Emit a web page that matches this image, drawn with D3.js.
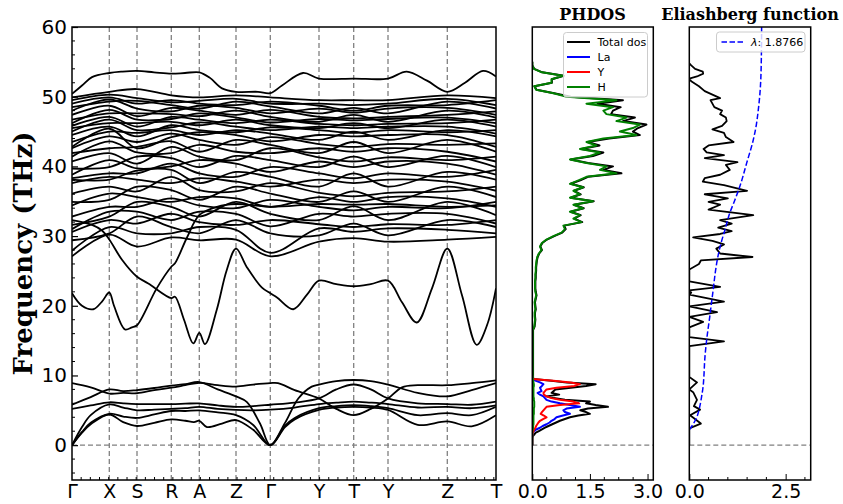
<!DOCTYPE html>
<html><head><meta charset="utf-8">
<script src="https://cdn.jsdelivr.net/npm/d3@7"></script>
<style>body{margin:0;background:#fff}svg{display:block}</style>
</head><body>
<svg id="chart" width="843" height="504"></svg>
<script>
// ---------- path through the Brillouin zone ----------
const kLabels = ["Γ","X","S","R","A","Z","Γ","Y","T","Y","Z","T"];
const kPoints = [0, 0.373, 0.65, 0.993, 1.273, 1.64, 1.983, 2.47, 2.817, 3.16, 3.753, 4.24];
const freqTicks = [0, 10, 20, 30, 40, 50, 60];

// ---------- metal-dominated branches, [k, THz] ----------
const bandA = [[0,8.9],[0.187,8.3],[0.373,7.4],[0.512,7.5],[0.65,7.45],[0.822,7.9],[0.993,8.25],[1.133,8.6],[1.273,8.95],[1.457,8.6],[1.64,8.4],[1.812,8.7],[1.983,8.9],[2.06,8.9],[2.227,7.9],[2.47,6.7],[2.643,5.2],[2.817,4.3],[2.988,5.2],[3.16,6.7],[3.3,8.3],[3.457,8.6],[3.753,8.6],[3.997,8.9],[4.24,9.3]];
const bandB = [[0,5.8],[0.187,6.9],[0.373,8.0],[0.512,7.75],[0.65,7.9],[0.822,8.2],[0.993,8.55],[1.133,8.75],[1.273,9.05],[1.457,8.0],[1.64,7.0],[1.747,6.2],[1.88,3.1],[1.983,0],[2.13,3.2],[2.263,6.7],[2.397,8.4],[2.47,8.7],[2.643,9.2],[2.817,9.35],[2.988,9.2],[3.16,8.7],[3.457,7.5],[3.753,7.0],[3.997,7.9],[4.24,8.9]];
const bandC = [[0,5.2],[0.187,5.7],[0.373,6.15],[0.512,6.0],[0.65,5.9],[0.822,5.9],[0.993,5.9],[1.133,5.95],[1.273,6.0],[1.457,5.7],[1.64,5.5],[1.812,5.6],[1.983,5.8],[2.227,6.1],[2.47,6.7],[2.643,8.0],[2.817,8.7],[2.988,8.0],[3.16,6.7],[3.457,6.0],[3.753,5.9],[3.997,5.8],[4.24,6.25]];
const bandD = [[0,0],[0.1,2.6],[0.187,4.3],[0.373,5.85],[0.512,5.4],[0.65,5.0],[0.822,5.1],[0.993,5.2],[1.133,5.3],[1.273,5.5],[1.457,5.2],[1.64,5.05],[1.812,5.0],[1.983,5.1],[2.227,5.4],[2.47,5.9],[2.643,6.1],[2.817,6.25],[2.988,6.1],[3.16,5.9],[3.457,5.4],[3.753,5.5],[3.997,5.3],[4.24,5.7]];
const bandE = [[0,0],[0.1,1.9],[0.187,3.2],[0.373,4.5],[0.512,4.1],[0.65,3.9],[0.822,4.4],[0.993,4.9],[1.133,4.9],[1.273,5.0],[1.457,4.7],[1.64,4.3],[1.812,2.9],[1.983,0],[2.13,2.8],[2.227,3.9],[2.47,5.3],[2.643,5.6],[2.817,5.75],[2.988,5.6],[3.16,5.3],[3.457,4.3],[3.753,4.6],[3.997,4.3],[4.24,5.5]];
const bandF = [[0,0],[0.1,1.8],[0.187,3.0],[0.373,4.4],[0.512,3.3],[0.65,2.75],[0.822,3.2],[0.993,3.7],[1.133,3.5],[1.22,3.3],[1.273,3.5],[1.35,2.6],[1.5,3.1],[1.64,3.6],[1.812,2.2],[1.983,0],[2.13,2.6],[2.227,3.7],[2.47,5.05],[2.643,5.4],[2.817,5.5],[2.988,5.4],[3.16,5.05],[3.457,2.9],[3.753,3.4],[3.997,2.7],[4.24,4.3]];

// ---------- hydrogen branches that stand out ----------
const bandAlpha = [[0,21.8],[0.1,20.0],[0.213,19.5],[0.3,20.6],[0.373,21.9],[0.42,20.0],[0.53,16.6],[0.6,16.9],[0.65,17.2],[0.847,22.5],[0.993,25.6],[1.03,26.1],[1.15,29.8],[1.273,33.0],[1.45,34.2],[1.64,34.6],[1.983,34.2],[2.47,34.6],[2.817,34.5],[3.16,34.6],[3.753,34.2],[4.24,34.4]];
const bandBeta = [[0,32.3],[0.2,31.6],[0.3,30.8],[0.373,29.5],[0.5,26.6],[0.647,24.2],[0.763,23.2],[0.993,21.1],[1.03,21.3],[1.12,18.0],[1.213,14.6],[1.273,16.1],[1.33,14.5],[1.447,19.4],[1.547,25.1],[1.64,28.2],[1.75,25.5],[1.9,22.6],[1.983,21.8],[2.05,21.2],[2.213,19.5],[2.35,21.6],[2.47,23.6],[2.643,23.1],[2.817,22.8],[2.988,23.1],[3.16,23.6],[3.3,20.5],[3.447,17.6],[3.6,22.5],[3.753,28.2],[3.9,21.5],[4.047,14.4],[4.15,17.2],[4.24,22.5]];
const bandTop = [[0,50.4],[0.1,51.6],[0.2,52.8],[0.373,53.4],[0.5,53.6],[0.65,53.7],[0.82,53.5],[0.993,53.3],[1.13,53.4],[1.273,53.5],[1.38,52.7],[1.5,51.2],[1.64,50.7],[1.86,50.7],[1.983,50.5],[2.1,51.6],[2.31,53.4],[2.47,52.6],[2.817,52.6],[3.16,52.6],[3.347,53.6],[3.55,52.3],[3.753,50.7],[3.93,52.0],[4.11,53.7],[4.24,52.9]];

// ---------- remaining hydrogen branches: frequency of branch i (THz) at each labelled point ----------
const hGamma  = [27.1,27.9,29.4,30.6,31.0,31.6,32.8,34.4,34.9,36.1,37.6,38.1,38.3,38.8,39.7,40.7,41.4,41.9,42.6,42.8,43.5,44.5,45.0,45.5,45.8,46.2,46.7,47.4,48.0,48.5,49.0,49.5,49.9];
const hX      = [30.2,31.3,30.4,32.3,33.5,32.8,34.2,36.1,35.2,37.1,38.5,38.1,39.0,40.9,39.9,41.9,43.6,42.6,44.3,45.4,45.0,45.7,46.7,46.2,47.1,48.1,47.6,48.7,49.6,49.3,49.9,50.3,50.7];
const hS      = [28.5,30.4,32.8,31.8,33.5,34.9,34.2,35.6,37.1,36.4,38.1,39.4,39.0,39.7,41.4,40.4,42.0,42.8,43.5,42.6,44.8,44.3,45.2,46.2,45.7,46.7,47.6,47.2,48.3,49.4,49.0,49.8,51.1];
const hR      = [29.8,30.4,31.3,33.2,32.3,34.2,35.4,34.9,36.6,38.5,37.6,39.5,40.4,40.0,41.2,42.8,41.9,43.6,44.7,44.2,45.2,45.9,45.6,46.4,47.1,46.8,47.5,48.4,47.9,48.8,49.5,49.2,50.2];
const hA      = [29.4,31.3,30.4,32.0,33.5,32.8,34.4,35.6,35.2,36.6,38.3,37.6,39.0,40.9,39.9,41.4,43.1,42.1,43.8,44.9,44.5,45.2,46.3,45.9,46.7,47.6,47.2,48.0,48.7,48.3,49.0,49.4,49.9];
const hZ      = [29.5,30.9,32.3,31.6,33.2,34.9,34.0,35.4,37.1,36.4,37.8,39.2,38.5,40.4,41.5,40.9,42.1,43.8,43.1,44.5,45.2,44.9,45.7,46.7,46.2,47.0,48.0,47.4,48.4,49.3,48.8,49.7,50.2];
const hGamma2 = [27.1,27.6,30.4,32.3,31.4,33.2,35.2,34.2,36.1,37.6,37.1,38.5,39.9,39.2,40.9,42.6,41.9,43.1,44.2,43.6,44.7,45.6,45.2,45.9,46.7,46.3,47.1,48.1,47.6,48.6,49.3,49.0,49.9];
const hY      = [29.2,31.1,30.1,31.7,33.2,32.3,34.2,35.6,34.9,36.2,38.1,37.1,39.0,40.7,39.9,41.3,42.6,41.9,43.2,44.5,43.8,45.2,45.7,45.5,46.1,46.8,46.4,47.1,48.3,47.6,48.7,49.0,49.5];
const hT      = [29.7,30.6,31.8,31.3,32.8,34.3,33.7,34.9,36.4,35.7,37.6,39.0,38.3,39.9,41.4,40.7,42.1,43.5,42.8,44.3,45.0,44.8,45.5,46.2,45.9,46.6,47.4,46.9,47.7,48.4,48.0,48.8,49.5];
const hT2     = [29.9,30.4,31.3,32.3,31.8,33.0,34.9,34.2,35.6,37.1,36.5,38.1,39.5,38.8,39.9,41.4,40.7,42.1,43.3,42.8,44.3,45.2,44.7,45.7,46.7,46.2,47.0,47.9,47.4,48.3,49.5,48.8,49.8];

// ---------- phonon DOS (states/THz) ----------
const dosFreqLow = [0,0.25,0.5,0.75,1,1.25,1.5,1.75,2,2.25,2.5,2.75,3,3.25,3.5,3.75,4,4.25,4.5,4.75,5,5.25,5.5,5.75,6,6.25,6.5,6.75,7,7.25,7.5,7.75,8,8.25,8.5,8.75,9,9.25,9.5,9.75,10];
const dosTotalLow = [0,0,0,0,0,0.01,0.05,0.08,0.17,0.25,0.33,0.42,0.52,0.62,0.72,0.85,0.98,1.2,1.5,1.4,1.25,1.45,1.97,1.65,1.4,1.5,0.85,0.55,0.37,0.7,0.5,0.55,0.6,1.0,1.4,1.65,0.9,0.5,0.03,0.02,0.02];
const dosLa = [0,0,0,0,0,0,0,0.01,0.04,0.1,0.2,0.27,0.37,0.45,0.5,0.58,0.63,0.8,0.98,0.85,0.81,0.89,1.24,0.98,0.72,0.5,0.37,0.33,0.29,0.2,0.14,0.24,0.22,0.2,0.25,0.29,0.2,0.08,0,0,0];
const dosY  = [0,0,0,0,0,0,0,0.01,0.03,0.05,0.08,0.1,0.13,0.16,0.2,0.28,0.37,0.3,0.22,0.25,0.29,0.33,0.37,0.72,1.22,1.07,0.72,0.5,0.37,0.3,0.29,0.33,0.37,0.63,1.1,1.24,1.0,0.55,0,0,0];
const dosHLow = [0,0,0,0,0,0,0,0,0,0.01,0.02,0.02,0.03,0.03,0.03,0.03,0.03,0.03,0.04,0.04,0.04,0.04,0.05,0.05,0.05,0.05,0.04,0.04,0.03,0.03,0.03,0.03,0.03,0.03,0.04,0.04,0.03,0.02,0.01,0.01,0.01];

const dosFreqHigh = [10.5,11,11.5,12,12.5,13,13.5,14,14.5,15,15.5,16,16.5,17,17.5,18,18.5,19,19.5,20,20.5,21,21.5,22,22.5,23,23.5,24,24.5,25,25.5,26,26.5,27,27.5,28,28.5,29,29.5,30,30.5,31,31.5,32,32.5,33,33.5,34,34.5,35,35.5,36,36.5,37,37.5,38,38.5,39,39.5,40,40.5,41,41.5,42,42.5,43,43.5,44,44.5,45,45.5,46,46.5,47,47.5,48,48.5,49,49.5,50,50.5,51,51.5,52,52.5,53,53.5,54,54.5,55];
const dosHHigh = [0.01,0.01,0.01,0.01,0.01,0.01,0.01,0.01,0.01,0.01,0.01,0.01,0.01,0.05,0.06,0.07,0.06,0.06,0.08,0.07,0.06,0.08,0.1,0.08,0.07,0.07,0.07,0.08,0.08,0.09,0.09,0.1,0.11,0.13,0.17,0.24,0.2,0.25,0.37,0.55,0.76,0.85,0.81,1.28,1.07,1.24,0.98,1.32,1.07,1.58,0.98,1.24,1.07,1.32,0.98,1.2,1.41,2.19,1.76,1.93,1.41,0.98,1.5,1.76,1.24,1.67,1.41,1.85,2.71,2.28,2.62,2.8,2.19,2.45,1.93,1.85,2.1,1.41,2.19,0.9,0.55,0.1,0.05,0.5,0.5,0.8,0.25,0.04,0,0];
const dosTotalHigh = [0.02,0.02,0.02,0.02,0.02,0.02,0.02,0.02,0.02,0.02,0.02,0.02,0.02,0.06,0.07,0.08,0.07,0.07,0.09,0.08,0.07,0.09,0.11,0.09,0.08,0.08,0.08,0.09,0.09,0.1,0.1,0.11,0.12,0.14,0.18,0.25,0.21,0.26,0.38,0.57,0.78,0.87,0.83,1.3,1.09,1.26,1.0,1.34,1.09,1.6,1.0,1.26,1.09,1.34,1.0,1.25,1.45,2.32,1.85,2.1,1.45,1.0,1.58,1.85,1.27,1.75,1.44,2.0,2.8,2.62,2.75,2.97,2.36,2.67,2.05,2.1,2.3,1.7,2.36,1.0,0.57,0.11,0.06,0.51,0.51,0.82,0.26,0.05,0,0];

// ---------- Eliashberg spectral function and cumulative coupling ----------
const a2fFreq = [0,2.4,3.1,4.3,5.1,5.6,6.5,7.6,8.0,9.0,9.8,14.2,14.9,15.5,16.9,17.7,18.4,19.1,19.9,20.6,21.6,21.9,22.2,22.7,23.5,25.2,26.0,26.5,27.0,27.5,28.2,28.8,29.3,29.8,30.3,30.7,31.2,31.8,32.3,33.0,33.8,34.5,34.9,35.4,36.0,36.5,37.3,37.8,38.3,38.8,39.5,40.2,40.6,41.2,41.6,42.0,42.5,43.0,43.5,44.2,44.8,45.3,45.8,46.5,47.0,47.5,48.0,48.5,49.0,49.5,49.8,50.8,51.5,52.2,52.6,52.9,53.3,53.6,54.0,54.5,54.8];
const a2fVal  = [0,0,0.3,0.02,0.28,0.12,0.2,0.1,0,0.2,0,0,0.9,0,0,0.36,0,0.72,0,0.9,0,0.05,0,0.8,0,0,0.25,0.3,1.64,0.8,0.7,0.9,0.6,0.1,0.8,1.1,0.75,1.1,0.8,1.66,0.5,0.8,0.5,1.0,0.4,1.5,0.9,0.35,0.4,0.8,1.05,0.95,1.25,0.4,0.9,0.45,0.37,0.5,1.15,0.95,0.9,0.6,0.85,0.97,0.95,0.8,0.85,0.65,0.6,0.55,0.8,0.4,0.25,0.05,0,0.2,0.36,0.35,0.15,0.05,0];
const lambdaFreq = [2.2,3.2,4.1,5.5,7,8.5,10,12.2,15.1,18.4,20.6,22.3,25,27,28.5,31,33.3,35,37.1,40.5,43.8,46,48.1,51,54.3,60];
const lambdaVal  = [0,0.12,0.2,0.27,0.32,0.36,0.38,0.4,0.45,0.53,0.58,0.62,0.68,0.74,0.8,0.93,1.05,1.17,1.31,1.49,1.66,1.74,1.79,1.84,1.865,1.8766];
const lambdaTotal = 1.8766;

// ---------- layout ----------
const svg = d3.select("#chart");
const yTop = 27, yBot = 480;
const y = d3.scaleLinear().domain([-5, 60]).range([yBot, yTop]);
const xK = d3.scaleLinear().domain([0, 4.24]).range([72, 496]);
const xPh = d3.scaleLinear().domain([0, 3.15]).range([532.3, 653.3]);
const xEl = d3.scaleLinear().domain([0, 3.15]).range([689.3, 810.7]);

const sans = "DejaVu Sans, sans-serif";
const serif = "DejaVu Serif, serif";
const grey = "#808080";
const tickFont = 19;

function clip(id, x0, x1) {
  svg.append("clipPath").attr("id", id).append("rect")
    .attr("x", x0).attr("y", yTop).attr("width", x1 - x0).attr("height", yBot - yTop);
}
clip("cBand", 72, 496); clip("cPh", 532.3, 653.3); clip("cEl", 689.3, 810.7);

// ---------- band structure ----------
const gBand = svg.append("g");
gBand.selectAll("line.hs").data(kPoints.slice(1, -1)).join("line")
  .attr("x1", d => xK(d)).attr("x2", d => xK(d)).attr("y1", yTop).attr("y2", yBot)
  .attr("stroke", grey).attr("stroke-width", 1.3).attr("stroke-dasharray", "5,3");
gBand.append("line").attr("x1", 72).attr("x2", 496).attr("y1", y(0)).attr("y2", y(0))
  .attr("stroke", grey).attr("stroke-width", 1.3).attr("stroke-dasharray", "5,3");

const levelSets = [hGamma, hX, hS, hR, hA, hZ, hGamma2, hY, hT, hY, hZ, hT2];
const denseBands = hGamma.map((_, i) => kPoints.map((k, j) => [k, levelSets[j][i]]));
const allBands = [bandA, bandB, bandC, bandD, bandE, bandF, bandAlpha, bandBeta, bandTop, ...denseBands];

const bandLine = d3.line().x(d => xK(d[0])).y(d => y(d[1])).curve(d3.curveCatmullRom.alpha(0.5));
gBand.append("g").attr("clip-path", "url(#cBand)")
  .selectAll("path").data(allBands).join("path")
  .attr("d", bandLine).attr("fill", "none").attr("stroke", "#000").attr("stroke-width", 1.8);

// frequency axis
const yAxis = d3.axisLeft(y).tickValues(freqTicks).tickSize(-6).tickPadding(5);
const gy = svg.append("g").attr("transform", "translate(72,0)").call(yAxis);
gy.select(".domain").remove();
gy.selectAll("text").attr("font-family", sans).attr("font-size", 20).attr("fill", "#000");
gy.selectAll("line").attr("stroke-width", 1.2);
const yMinor = d3.range(-4, 60, 2).filter(v => v % 10 !== 0);
svg.append("g").selectAll("line").data(yMinor).join("line")
  .attr("x1", 72).attr("x2", 75).attr("y1", d => y(d)).attr("y2", d => y(d))
  .attr("stroke", "#000").attr("stroke-width", 1);

// k-path axis
const kAxis = d3.axisBottom(xK).tickValues(kPoints).tickFormat((d, i) => kLabels[i]).tickSize(0).tickPadding(4);
const gk = svg.append("g").attr("transform", `translate(0,${yBot})`).call(kAxis);
gk.select(".domain").remove();
gk.selectAll("text").attr("font-family", sans).attr("font-size", tickFont).attr("fill", "#000");
svg.append("g").selectAll("line").data(d3.range(0.0917, 4.24, 0.0917)).join("line")
  .attr("x1", d => xK(d)).attr("x2", d => xK(d)).attr("y1", yBot).attr("y2", yBot - 3)
  .attr("stroke", "#000").attr("stroke-width", 1);

svg.append("rect").attr("x", 72).attr("y", yTop).attr("width", 424).attr("height", yBot - yTop)
  .attr("fill", "none").attr("stroke", "#000").attr("stroke-width", 1.5);

svg.append("text").attr("transform", `translate(32,${(yTop + yBot) / 2}) rotate(-90)`)
  .attr("text-anchor", "middle").attr("font-family", serif).attr("font-weight", "bold")
  .attr("font-size", 26).text("Frequency (THz)");

// ---------- PHDOS panel ----------
const gPh = svg.append("g");
gPh.append("line").attr("x1", 532.3).attr("x2", 653.3).attr("y1", y(0)).attr("y2", y(0))
  .attr("stroke", grey).attr("stroke-width", 1.3).attr("stroke-dasharray", "5,3");
const dosFreq = dosFreqLow.concat(dosFreqHigh);
const dosSeries = [
  {name: "Total dos", color: "#000000", f: dosFreq, v: dosTotalLow.concat(dosTotalHigh)},
  {name: "La", color: "#0000ff", f: dosFreqLow, v: dosLa},
  {name: "Y", color: "#ff0000", f: dosFreqLow, v: dosY},
  {name: "H", color: "#008000", f: dosFreq, v: dosHLow.concat(dosHHigh)}
];
const dosLine = d3.line().x(d => xPh(d[1])).y(d => y(d[0]));
gPh.append("g").attr("clip-path", "url(#cPh)")
  .selectAll("path").data(dosSeries).join("path")
  .attr("d", s => dosLine(s.f.map((f, i) => [f, s.v[i]])))
  .attr("fill", "none").attr("stroke", s => s.color).attr("stroke-width", 2).attr("stroke-linejoin", "round");

const phAxis = d3.axisBottom(xPh).tickValues([0, 1.5, 3.0]).tickFormat(d3.format(".1f")).tickSize(-6).tickPadding(4);
const gpx = svg.append("g").attr("transform", `translate(0,${yBot})`).call(phAxis);
gpx.select(".domain").remove();
gpx.selectAll("text").attr("font-family", sans).attr("font-size", tickFont).attr("fill", "#000");
svg.append("g").selectAll("line").data(d3.range(0.375, 3.15, 0.375).filter((v, i) => (i + 1) % 4 !== 0)).join("line")
  .attr("x1", d => xPh(d)).attr("x2", d => xPh(d)).attr("y1", yBot).attr("y2", yBot - 3)
  .attr("stroke", "#000").attr("stroke-width", 1);
svg.append("rect").attr("x", 532.3).attr("y", yTop).attr("width", 121).attr("height", yBot - yTop)
  .attr("fill", "none").attr("stroke", "#000").attr("stroke-width", 1.5);
svg.append("text").attr("x", 592.5).attr("y", 20).attr("text-anchor", "middle")
  .attr("font-family", serif).attr("font-weight", "bold").attr("font-size", 16).text("PHDOS");

// legend
const lg = svg.append("g").attr("transform", "translate(563.5,32.5)");
lg.append("rect").attr("width", 84).attr("height", 64.5).attr("rx", 3)
  .attr("fill", "#fff").attr("fill-opacity", 0.8).attr("stroke", "#cccccc").attr("stroke-width", 1);
dosSeries.forEach((s, i) => {
  const yy = 9.5 + i * 15;
  lg.append("line").attr("x1", 3.5).attr("x2", 26.5).attr("y1", yy).attr("y2", yy)
    .attr("stroke", s.color).attr("stroke-width", 2);
  lg.append("text").attr("x", 34).attr("y", yy + 4).attr("font-family", sans).attr("font-size", 11).text(s.name);
});

// ---------- Eliashberg panel ----------
const gEl = svg.append("g");
gEl.append("line").attr("x1", 689.3).attr("x2", 810.7).attr("y1", y(0)).attr("y2", y(0))
  .attr("stroke", grey).attr("stroke-width", 1.3).attr("stroke-dasharray", "5,3");
const elClip = gEl.append("g").attr("clip-path", "url(#cEl)");
elClip.append("path")
  .attr("d", d3.line().x(d => xEl(d[1])).y(d => y(d[0]))(a2fFreq.map((f, i) => [f, a2fVal[i]])))
  .attr("fill", "none").attr("stroke", "#000").attr("stroke-width", 1.8).attr("stroke-linejoin", "round");
elClip.append("path")
  .attr("d", d3.line().x(d => xEl(d[1])).y(d => y(d[0])).curve(d3.curveMonotoneY)(lambdaFreq.map((f, i) => [f, lambdaVal[i]])))
  .attr("fill", "none").attr("stroke", "#0000ff").attr("stroke-width", 1.5).attr("stroke-dasharray", "5.5,2.5");

const elAxis = d3.axisBottom(xEl).tickValues([0, 2.5]).tickFormat(d3.format(".1f")).tickSize(-6).tickPadding(4);
const gex = svg.append("g").attr("transform", `translate(0,${yBot})`).call(elAxis);
gex.select(".domain").remove();
gex.selectAll("text").attr("font-family", sans).attr("font-size", tickFont).attr("fill", "#000");
svg.append("g").selectAll("line").data([0.5, 1, 1.5, 2, 3]).join("line")
  .attr("x1", d => xEl(d)).attr("x2", d => xEl(d)).attr("y1", yBot).attr("y2", yBot - 3)
  .attr("stroke", "#000").attr("stroke-width", 1);
svg.append("rect").attr("x", 689.3).attr("y", yTop).attr("width", 121.4).attr("height", yBot - yTop)
  .attr("fill", "none").attr("stroke", "#000").attr("stroke-width", 1.5);
svg.append("text").attr("x", 750).attr("y", 20).attr("text-anchor", "middle")
  .attr("font-family", serif).attr("font-weight", "bold").attr("font-size", 16).text("Eliashberg function");

const lg2 = svg.append("g").attr("transform", "translate(716.5,32)");
lg2.append("rect").attr("width", 88.5).attr("height", 20).attr("rx", 3)
  .attr("fill", "#fff").attr("fill-opacity", 0.8).attr("stroke", "#cccccc").attr("stroke-width", 1);
lg2.append("line").attr("x1", 5).attr("x2", 28).attr("y1", 10).attr("y2", 10)
  .attr("stroke", "#0000ff").attr("stroke-width", 1.5).attr("stroke-dasharray", "5.5,2.5");
const lt = lg2.append("text").attr("x", 34.5).attr("y", 14).attr("font-family", sans).attr("font-size", 11);
lt.append("tspan").attr("font-style", "italic").text("λ");
lt.append("tspan").text(": " + lambdaTotal.toFixed(4));
</script>
</body></html>
